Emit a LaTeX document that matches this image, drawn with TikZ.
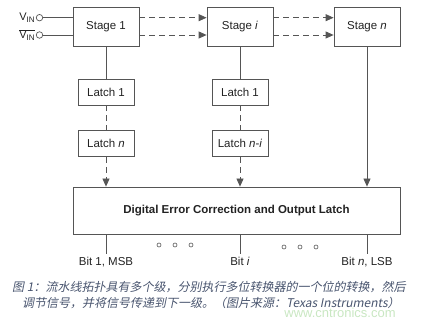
\documentclass[tikz,border=0pt]{standalone}
\usepackage{fontspec}
\setmainfont{Liberation Sans}
\newfontfamily\cjk[FakeSlant=0.2]{Noto Sans CJK SC}
\usetikzlibrary{arrows.meta,positioning,calc}
\definecolor{adcink}{HTML}{222222}
\definecolor{adcline}{HTML}{555555}
\definecolor{adcnote}{HTML}{48546E}
\definecolor{adcmark}{HTML}{C9E7C2}

\begin{document}
\begin{tikzpicture}[
  x=1pt,y=-1pt,
  stagebox/.style={draw=adcline,line width=0.8pt,minimum width=66pt,minimum height=39pt,text=adcink,font=\fontsize{11.5}{13}\selectfont},
  latchbox/.style={draw=adcline,line width=0.8pt,minimum width=56pt,minimum height=26pt,text=adcink,font=\fontsize{11.5}{13}\selectfont},
  pinmark/.style={circle,draw=adcline,line width=0.7pt,fill=white,minimum size=6.5pt,inner sep=0pt},
  wire/.style={draw=adcline,line width=0.8pt},
  dashwire/.style={draw=adcline,line width=0.8pt,dash pattern=on 6pt off 4pt},
  feed/.style={-{Triangle[length=8pt,width=7pt]},draw=adcline,line width=0.8pt},
  bitlabel/.style={text=adcink,font=\fontsize{11.5}{13}\selectfont},
  note/.style={anchor=west,inner sep=0pt,text=adcnote,font=\cjk\fontsize{12}{14}\selectfont},
]
\useasboundingbox (0,0) rectangle (431,320);

% pipeline stages
\node[stagebox] (stage1) at (106,26.5) {Stage 1};
\node[stagebox] (stagei) at (240,26.5) {Stage \textit{i}};
\node[stagebox] (stagen) at (367,26.5) {Stage \textit{n}};

% differential input
\node[pinmark] (vinp) at (39.5,17.7) {};
\node[pinmark] (vinm) at (39.5,35) {};
\node[anchor=east,inner sep=1pt,text=adcink,font=\fontsize{11}{13}\selectfont] (labp) at (vinp.west) {V\raisebox{-0.35ex}{\fontsize{8}{8}\selectfont IN}};
\node[anchor=east,inner sep=1pt,text=adcink,font=\fontsize{11}{13}\selectfont] (labm) at (vinm.west) {$\overline{\hbox{V\raisebox{-0.35ex}{\fontsize{8}{8}\selectfont IN}}}$};
\draw[wire] (vinp) -- (vinp -| stage1.west);
\draw[wire] (vinm) -- (vinm -| stage1.west);

% residue passed to the next stage
\foreach \src/\dst in {stage1/stagei,stagei/stagen}{
  \draw[feed,dash pattern=on 6pt off 4pt] (\src.east |- vinp) -- (\dst.west |- vinp);
  \draw[feed,dash pattern=on 6pt off 4pt] (\src.east |- vinm) -- (\dst.west |- vinm);
}

% delay latches
\node[latchbox] (lat1a) at (106,92) {Latch 1};
\node[latchbox] (lat1b) at (106,143.5) {Latch \textit{n}};
\node[latchbox] (latia) at (240,92) {Latch 1};
\node[latchbox] (latib) at (240,143.5) {Latch \textit{n}-\textit{i}};

\node[draw=adcline,line width=0.8pt,minimum width=327pt,minimum height=47pt,text=adcink,font=\bfseries\fontsize{11.5}{13}\selectfont]
  (corr) at (236.5,210.5) {Digital Error Correction and Output Latch};

\draw[wire] (stage1) -- (lat1a);
\draw[dashwire] (lat1a) -- (lat1b);
\draw[feed,dash pattern=on 6pt off 4pt] (lat1b) -- (corr.north -| lat1b);
\draw[wire] (stagei) -- (latia);
\draw[dashwire] (latia) -- (latib);
\draw[feed,dash pattern=on 6pt off 4pt] (latib) -- (corr.north -| latib);
\draw[feed] (stagen) -- (corr.north -| stagen);

% output bits
\coordinate (bit1) at (106,254);
\coordinate (biti) at (240,254);
\coordinate (bitn) at (367,254);
\draw[wire] (corr.south -| bit1) -- (bit1);
\draw[wire] (corr.south -| biti) -- (biti);
\draw[wire] (corr.south -| bitn) -- (bitn);
\node[bitlabel,anchor=north] (lb1) at (bit1) {Bit 1, MSB};
\node[bitlabel,anchor=north] (lbi) at (biti) {Bit \textit{i}};
\node[bitlabel,anchor=north] (lbn) at (bitn) {Bit \textit{n}, LSB};
\foreach \x/\y in {159/245,175/245,191/245,284/247,300/247,316/247}
  \draw[adcline,line width=0.6pt] (\x,\y) circle (2pt);

% caption
\node[adcmark,font=\fontsize{13}{14}\selectfont,inner sep=0pt] (mark) at (340,312.5) {www.cntronics.com};
\node[note] (cap1) at (12,287) {图 1：流水线拓扑具有多个级，分别执行多位转换器的一个位的转换，然后};
\node[note] (cap2) at (22,303) {调节信号，并将信号传递到下一级。（图片来源：Texas Instruments）};
\end{tikzpicture}
\end{document}
